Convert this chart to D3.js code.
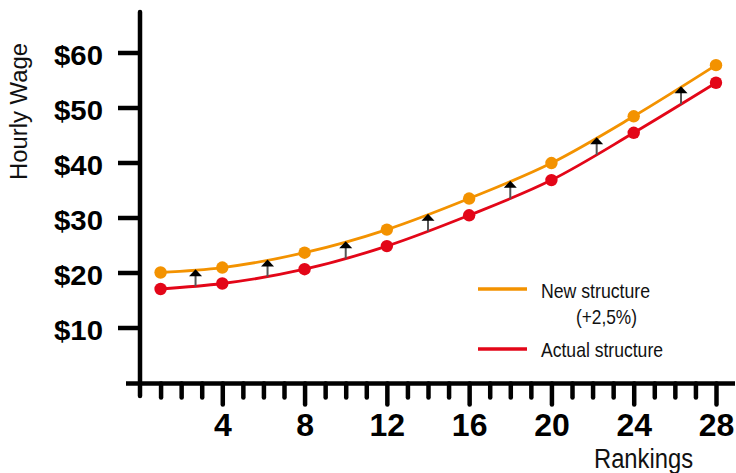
<!DOCTYPE html>
<html>
<head>
<meta charset="utf-8">
<script src="https://cdn.jsdelivr.net/npm/d3@7"></script>
<style>
  html, body { margin: 0; padding: 0; background: #fff; }
  svg { display: block; }
  text { font-family: "Liberation Sans Narrow", "Liberation Sans", Arial, sans-serif; }
</style>
</head>
<body>
<svg id="chart" width="736" height="473"></svg>
<script>
// ---- data ----
const rankings = [1, 4, 8, 12, 16, 20, 24, 28];
const actualWage = [17, 18, 20.6, 24.8, 30.4, 36.8, 45.4, 54.5];
const newWage = [20, 20.9, 23.6, 27.8, 33.45, 39.9, 48.4, 57.7];
const arrowRanks = [2.7, 6.2, 10, 14, 18, 22.2, 26.3];
const yTickValues = [10, 20, 30, 40, 50, 60];
const xTickValues = [1, 2, 3, 4, 5, 6, 7, 8, 9, 10, 11, 12, 13, 14, 15, 16, 17, 18, 19, 20, 21, 22, 23, 24, 25, 26, 27, 28];
const xLabelValues = [4, 8, 12, 16, 20, 24, 28];
const seriesNames = ["New structure", "(+2,5%)", "Actual structure"];
const axisTitles = { x: "Rankings", y: "Hourly Wage" };

const ORANGE = "#F39200";
const RED = "#E30618";

const svg = d3.select("#chart");
const x = d3.scaleLinear().domain([0, 28]).range([140, 716]);
const y = d3.scaleLinear().domain([0, 60]).range([382.5, 52.5]);

// ---- axes lines ----
svg.append("line").attr("x1", 126).attr("x2", 735).attr("y1", y(0) + 1).attr("y2", y(0) + 1)
  .attr("stroke", "#000").attr("stroke-width", 4.5);
svg.append("line").attr("x1", x(0)).attr("x2", x(0)).attr("y1", 12).attr("y2", 396)
  .attr("stroke", "#000").attr("stroke-width", 4.5).attr("stroke-linecap", "round");

// ---- x axis ----
const xAxis = d3.axisBottom(x).tickValues(xTickValues).tickSizeOuter(0)
  .tickFormat(d => xLabelValues.includes(d) ? String(d) : "");
const gx = svg.append("g").attr("transform", `translate(0,${y(0) + 1})`).call(xAxis);
gx.select(".domain").remove();
gx.selectAll(".tick line")
  .attr("y2", d => xLabelValues.includes(d) ? 21 : 14)
  .attr("stroke", "#000").attr("stroke-width", 4.5).attr("stroke-linecap", "round");
gx.selectAll(".tick text")
  .attr("y", 52.5).attr("dy", null)
  .attr("font-family", "'Liberation Sans Narrow','Liberation Sans',Arial,sans-serif")
  .attr("font-size", 32).attr("font-weight", "bold").attr("fill", "#000");

// ---- y axis ----
const yAxis = d3.axisLeft(y).tickValues(yTickValues).tickSizeOuter(0).tickFormat(d => "$" + d);
const gy = svg.append("g").attr("transform", `translate(${x(0)},0)`).call(yAxis);
gy.select(".domain").remove();
gy.selectAll(".tick line").attr("x2", -22).attr("stroke", "#000").attr("stroke-width", 4.5);
gy.selectAll(".tick text")
  .attr("x", -37).attr("dy", null).attr("y", 12)
  .attr("font-family", "'Liberation Sans Narrow','Liberation Sans',Arial,sans-serif")
  .attr("font-size", 27).attr("font-weight", "bold").attr("fill", "#000")
  .attr("textLength", 49).attr("lengthAdjust", "spacingAndGlyphs");

// ---- axis titles ----
svg.append("text").text(axisTitles.x)
  .attr("x", 594).attr("y", 467.5).attr("font-size", 27).attr("fill", "#111")
  .attr("textLength", 99).attr("lengthAdjust", "spacingAndGlyphs");
svg.append("text").text(axisTitles.y)
  .attr("transform", "translate(27,180) rotate(-90)")
  .attr("font-size", 23).attr("fill", "#111")
  .attr("textLength", 137).attr("lengthAdjust", "spacingAndGlyphs");

// ---- lines ----
const line = d3.line().x(d => x(d[0])).y(d => y(d[1])).curve(d3.curveMonotoneX);
const actualPts = rankings.map((r, i) => [r, actualWage[i]]);
const newPts = rankings.map((r, i) => [r, newWage[i]]);

const redPath = svg.append("path").datum(actualPts).attr("d", line)
  .attr("fill", "none").attr("stroke", RED).attr("stroke-width", 2.8);
const orangePath = svg.append("path").datum(newPts).attr("d", line)
  .attr("fill", "none").attr("stroke", ORANGE).attr("stroke-width", 2.8);

function yAtX(pathNode, px) {
  const L = pathNode.getTotalLength();
  let lo = 0, hi = L;
  for (let i = 0; i < 40; i++) {
    const mid = (lo + hi) / 2;
    if (pathNode.getPointAtLength(mid).x < px) lo = mid; else hi = mid;
  }
  return pathNode.getPointAtLength((lo + hi) / 2).y;
}

// ---- arrows ----
const arrowG = svg.append("g");
arrowRanks.forEach(r => {
  const px = x(r);
  const yTop = yAtX(orangePath.node(), px) - 1;
  const yBot = yAtX(redPath.node(), px);
  arrowG.append("line").attr("x1", px).attr("x2", px).attr("y1", yTop + 6).attr("y2", yBot)
    .attr("stroke", "#555").attr("stroke-width", 2);
  arrowG.append("path")
    .attr("d", `M${px},${yTop} L${px + 6.5},${yTop + 7} L${px - 6.5},${yTop + 7} Z`)
    .attr("fill", "#000");
});

// ---- dots ----
svg.append("g").selectAll("circle").data(actualPts).join("circle")
  .attr("cx", d => x(d[0])).attr("cy", d => y(d[1])).attr("r", 6.2).attr("fill", RED);
svg.append("g").selectAll("circle").data(newPts).join("circle")
  .attr("cx", d => x(d[0])).attr("cy", d => y(d[1])).attr("r", 6.2).attr("fill", ORANGE);

// ---- legend ----
const lg = svg.append("g");
lg.append("line").attr("x1", 478).attr("x2", 527).attr("y1", 289).attr("y2", 289)
  .attr("stroke", ORANGE).attr("stroke-width", 3.5);
lg.append("line").attr("x1", 478).attr("x2", 527).attr("y1", 349).attr("y2", 349)
  .attr("stroke", RED).attr("stroke-width", 3.5);
lg.append("text").text(seriesNames[0]).attr("x", 541).attr("y", 297.5)
  .attr("font-size", 21).attr("fill", "#111")
  .attr("textLength", 109).attr("lengthAdjust", "spacingAndGlyphs");
lg.append("text").text(seriesNames[1]).attr("x", 576).attr("y", 323.5)
  .attr("font-size", 21).attr("fill", "#111")
  .attr("textLength", 61).attr("lengthAdjust", "spacingAndGlyphs");
lg.append("text").text(seriesNames[2]).attr("x", 541).attr("y", 357)
  .attr("font-size", 21).attr("fill", "#111")
  .attr("textLength", 122).attr("lengthAdjust", "spacingAndGlyphs");
</script>
</body>
</html>
